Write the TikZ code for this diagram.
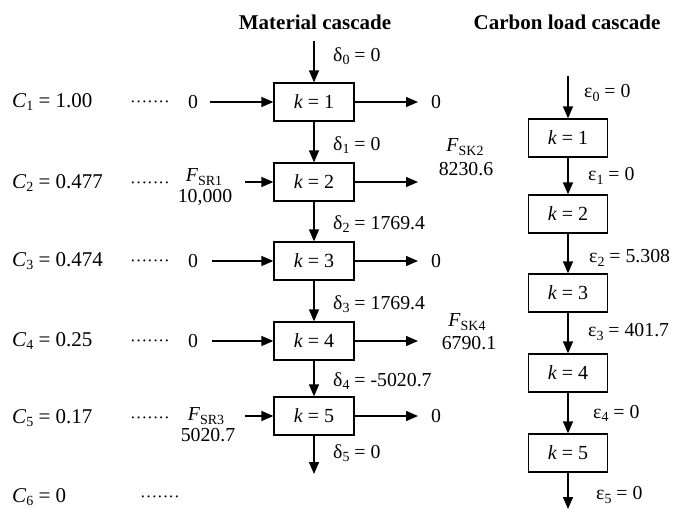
\documentclass[tikz,border=0pt]{standalone}
\usepackage{fontspec}
\setmainfont{Liberation Serif}
\usetikzlibrary{arrows.meta}
\newcommand\lsub[1]{\raisebox{-0.35ex}{\fontsize{14}{14}\selectfont #1}}
\begin{document}
\begin{tikzpicture}[x=1pt,y=-1pt,
  box/.style={draw,line width=1.3pt,minimum width=80pt,minimum height=38pt,inner sep=0pt,font=\fontsize{20}{22}\selectfont},
  lbl/.style={inner sep=0pt,font=\fontsize{19.8}{22}\selectfont},
  clbl/.style={inner sep=0pt,anchor=west,font=\fontsize{21}{23}\selectfont},
  dts/.style={inner sep=0pt,font=\fontsize{17}{20}\selectfont},
  arr/.style={line width=1.4pt,-{Triangle[length=12pt,width=10pt]}},
  ttl/.style={inner sep=0pt,font=\fontsize{21}{23}\selectfont\bfseries}]
\useasboundingbox (0,0) rectangle (677,509);
% ---------------- Material cascade
\node[ttl] (mt) at (315,22) {Material cascade};
\coordinate (mtop) at (314,41);
\node[box] (m1) at (314,102) {\textit{k} = 1};
\node[box] (m2) at (314,182) {\textit{k} = 2};
\node[box] (m3) at (314,261) {\textit{k} = 3};
\node[box] (m4) at (314,341) {\textit{k} = 4};
\node[box] (m5) at (314,416) {\textit{k} = 5};
\coordinate (mbot) at (314,474);
\draw[arr] (mtop) -- (m1);
\draw[arr] (m1) -- (m2);
\draw[arr] (m2) -- (m3);
\draw[arr] (m3) -- (m4);
\draw[arr] (m4) -- (m5);
\draw[arr] (m5) -- (mbot);
\node[lbl,anchor=west] (d0) at (333,56) {δ\lsub{0} = 0};
\node[lbl,anchor=west] (d1) at (333,145) {δ\lsub{1} = 0};
\node[lbl,anchor=west] (d2) at (333,224) {δ\lsub{2} = 1769.4};
\node[lbl,anchor=west] (d3) at (333,304) {δ\lsub{3} = 1769.4};
\node[lbl,anchor=west] (d4) at (333,381) {δ\lsub{4} = -5020.7};
\node[lbl,anchor=west] (d5) at (333,453) {δ\lsub{5} = 0};
% right outputs
\coordinate (r1) at (418,102);
\coordinate (r2) at (418,182);
\coordinate (r3) at (418,261);
\coordinate (r4) at (418,341);
\coordinate (r5) at (418,416);
\draw[arr] (m1) -- (r1);
\draw[arr] (m2) -- (r2);
\draw[arr] (m3) -- (r3);
\draw[arr] (m4) -- (r4);
\draw[arr] (m5) -- (r5);
\node[lbl] (ro1) at (436,102) {0};
\node[lbl] (fsk2) at (465,147) {\textit{F}\lsub{SK2}};
\node[lbl] (vsk2) at (466,169) {8230.6};
\node[lbl] (ro3) at (436,261) {0};
\node[lbl] (fsk4) at (467,322) {\textit{F}\lsub{SK4}};
\node[lbl] (vsk4) at (469,343) {6790.1};
\node[lbl] (ro5) at (436,416) {0};
% left inputs
\coordinate (l1) at (210,102);
\coordinate (l2) at (245,182);
\coordinate (l3) at (212,261);
\coordinate (l4) at (212,341);
\coordinate (l5) at (245,416);
\draw[arr] (l1) -- (m1);
\draw[arr] (l2) -- (m2);
\draw[arr] (l3) -- (m3);
\draw[arr] (l4) -- (m4);
\draw[arr] (l5) -- (m5);
\node[lbl] (li1) at (193,102) {0};
\node[lbl] (fsr1) at (204,177) {\textit{F}\lsub{SR1}};
\node[lbl] (vsr1) at (205,197) {10,000};
\node[lbl] (li3) at (193,261) {0};
\node[lbl] (li4) at (193,341) {0};
\node[lbl] (fsr3) at (206,416) {\textit{F}\lsub{SR3}};
\node[lbl] (vsr3) at (208,435) {5020.7};
% C labels and dots
\node[clbl] (c1) at (12,102) {\textit{C}\lsub{1} = 1.00};
\node[clbl] (c2) at (12,183) {\textit{C}\lsub{2} = 0.477};
\node[clbl] (c3) at (12,261) {\textit{C}\lsub{3} = 0.474};
\node[clbl] (c4) at (12,341) {\textit{C}\lsub{4} = 0.25};
\node[clbl] (c5) at (12,418) {\textit{C}\lsub{5} = 0.17};
\node[clbl] (c6) at (12,497) {\textit{C}\lsub{6} = 0};
\node[dts] (dt1) at (150,104) {·······};
\node[dts] (dt2) at (150,185) {·······};
\node[dts] (dt3) at (150,263) {·······};
\node[dts] (dt4) at (150,343) {·······};
\node[dts] (dt5) at (150,420) {·······};
\node[dts] (dt6) at (160,499) {·······};
% ---------------- Carbon load cascade
\node[ttl] (ct) at (567,22) {Carbon load cascade};
\coordinate (ctop) at (568,76);
\node[box,minimum width=79pt] (k1) at (568,138) {\textit{k} = 1};
\node[box,minimum width=79pt] (k2) at (568,214) {\textit{k} = 2};
\node[box,minimum width=79pt] (k3) at (568,293) {\textit{k} = 3};
\node[box,minimum width=79pt] (k4) at (568,373) {\textit{k} = 4};
\node[box,minimum width=79pt] (k5) at (568,453) {\textit{k} = 5};
\coordinate (cbot) at (568,509);
\draw[arr] (ctop) -- (k1);
\draw[arr] (k1) -- (k2);
\draw[arr] (k2) -- (k3);
\draw[arr] (k3) -- (k4);
\draw[arr] (k4) -- (k5);
\draw[arr] (k5) -- (cbot);
\node[lbl,anchor=west] (e0) at (584,93) {ε\lsub{0} = 0};
\node[lbl,anchor=west] (e1) at (588,176) {ε\lsub{1} = 0};
\node[lbl,anchor=west] (e2) at (589,258) {ε\lsub{2} = 5.308};
\node[lbl,anchor=west] (e3) at (588,332) {ε\lsub{3} = 401.7};
\node[lbl,anchor=west] (e4) at (593,413) {ε\lsub{4} = 0};
\node[lbl,anchor=west] (e5) at (596,495) {ε\lsub{5} = 0};
\end{tikzpicture}
\end{document}
